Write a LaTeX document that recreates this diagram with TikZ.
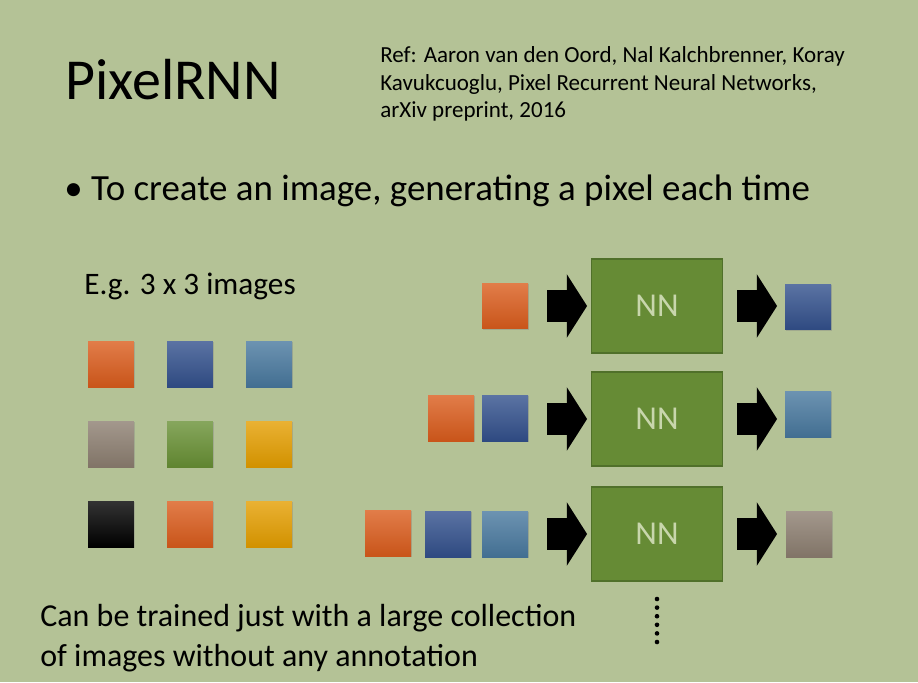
\documentclass[tikz,border=0pt]{standalone}
\usepackage{fontspec}
\setmainfont{Carlito}
\usetikzlibrary{shapes.arrows,shadows}

\definecolor{slidebg}{RGB}{180,194,150}
\definecolor{pxorange}{RGB}{218,92,28}
\definecolor{pxblue}{RGB}{50,80,140}
\definecolor{pxsteel}{RGB}{72,120,158}
\definecolor{pxtaupe}{RGB}{140,126,112}
\definecolor{pxgreen}{RGB}{104,144,52}
\definecolor{pxgold}{RGB}{228,158,0}
\definecolor{pxblack}{RGB}{0,0,0}
\definecolor{nnfill}{RGB}{102,139,53}
\definecolor{nnedge}{RGB}{80,112,42}
\definecolor{nntext}{RGB}{200,214,172}

\begin{document}
\begin{tikzpicture}[x=0.02cm, y=-0.02cm,
    pixel/.style={rectangle, minimum size=0.92cm, inner sep=0pt,
        top color=#1!80!white, bottom color=#1!92!black,
        drop shadow={opacity=0.35, shadow xshift=0.5pt, shadow yshift=-0.8pt}},
    nnbox/.style={rectangle, fill=nnfill, draw=nnedge, line width=0.8pt,
        minimum width=2.62cm, minimum height=1.88cm, inner sep=0pt,
        text=nntext, font=\fontsize{19}{19}\selectfont},
    fatarrow/.style={single arrow, fill=black, inner xsep=0pt, inner ysep=0.31cm,
        minimum height=0.8cm, single arrow head extend=0.32cm,
        single arrow tip angle=115}]

% background of the slide
\useasboundingbox (0,0) rectangle (918,682);
\fill[slidebg] (0,0) rectangle (918,682);

% Heres the title and the reference
\node[anchor=base west, inner sep=0pt, font=\fontsize{33}{33}\selectfont] (title) at (65,100) {PixelRNN};
\node[anchor=base west, inner sep=0pt, align=left, font=\fontsize{13.1}{15.9}\selectfont] (ref) at (380,118)
    {Ref: Aaron van den Oord, Nal Kalchbrenner, Koray\\
     Kavukcuoglu, Pixel Recurrent Neural Networks,\\
     arXiv preprint, 2016};

% the bullet
\node[anchor=base west, inner sep=0pt, font=\fontsize{21}{21}\selectfont] (bullet) at (64,200)
    {\textbullet\ To create an image, generating a pixel each time};

% the 3 x 3 example image
\node[anchor=base west, inner sep=0pt, font=\fontsize{17.8}{17.8}\selectfont] (eg) at (84,294) {E.g. 3 x 3 images};
\foreach \c [count=\i from 0] in {pxorange,pxblue,pxsteel,pxtaupe,pxgreen,pxgold,pxblack,pxorange,pxgold} {
    \pgfmathtruncatemacro{\col}{mod(\i,3)}
    \pgfmathtruncatemacro{\row}{div(\i,3)}
    \node[pixel=\c] (g\i) at ({111+79*\col}, {364+80*\row}) {};
}

% the three steps, NN in the middle
\foreach \r/\y in {1/306, 2/419, 3/534} {
    \node[nnbox] (nn\r) at (657,\y) {NN};
    \node[fatarrow] (in\r) at (562,\y) {};
    \node[fatarrow] (out\r) at (752,\y) {};
}

% inputs and outputs of each step
\node[pixel=pxorange] (a1) at (505,306) {};
\node[pixel=pxblue] (b1) at (808,307) {};

\node[pixel=pxorange] (a2) at (451,418) {};
\node[pixel=pxblue] (a3) at (505,418) {};
\node[pixel=pxsteel] (b2) at (808,414) {};

\node[pixel=pxorange] (a4) at (388,533) {};
\node[pixel=pxblue] (a5) at (448,534) {};
\node[pixel=pxsteel] (a6) at (505,534) {};
\node[pixel=pxtaupe] (b3) at (809,534) {};

% and the dots below
\foreach \k in {0,...,5}
    \fill (657,{599+8.6*\k}) circle (2.3);

% the bottom text
\node[anchor=base west, inner sep=0pt, align=left, font=\fontsize{18.2}{22.7}\selectfont] (note) at (40,666)
    {Can be trained just with a large collection\\ of images without any annotation};
\end{tikzpicture}
\end{document}
